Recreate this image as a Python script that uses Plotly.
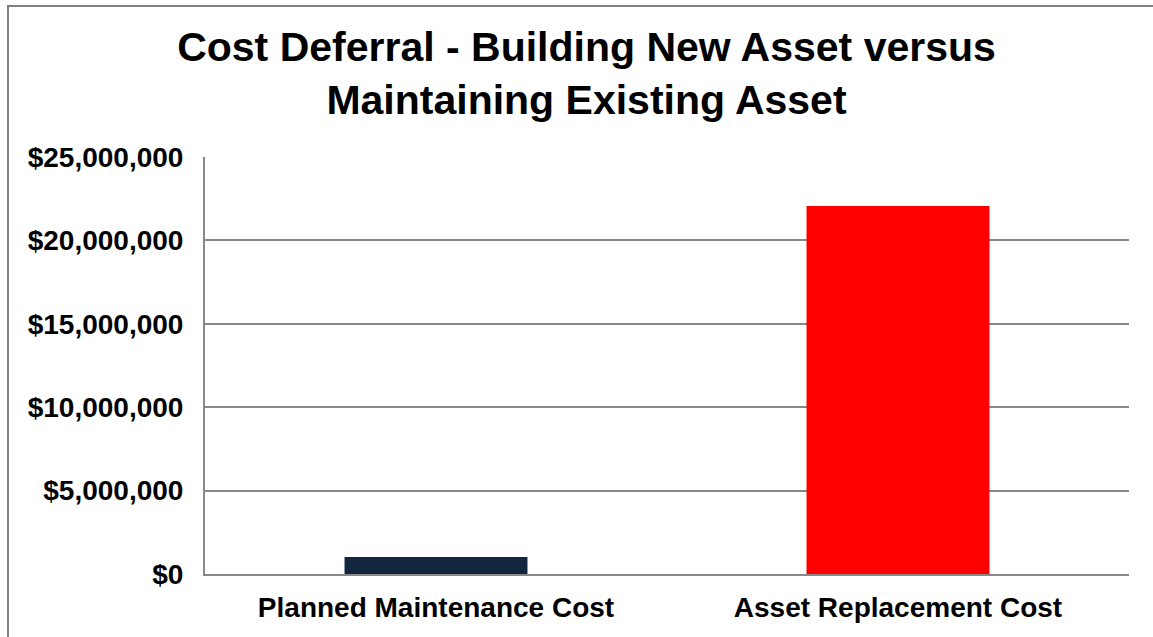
import plotly.graph_objects as go

categories = ["Planned Maintenance Cost", "Asset Replacement Cost"]
values = [1020000, 22060000]
colors = ["#13263f", "#ff0000"]
title_text = "Cost Deferral - Building New Asset versus<br>Maintaining Existing Asset"

W, H = 1153, 637
L, R, T, B = 205, 24, 157, 63
pw, ph = W - L - R, H - T - B

fig = go.Figure(go.Bar(x=categories, y=values, marker=dict(color=colors, line=dict(width=0)),
                       width=0.396))

font = "Liberation Sans, Arial, sans-serif"
fig.update_layout(
    width=W, height=H,
    margin=dict(l=L, r=R, t=T, b=B, pad=0),
    paper_bgcolor="white", plot_bgcolor="white",
    showlegend=False,
    title=dict(text=title_text, x=586.5 / W, xanchor="center", xref="container",
               y=1 - 61 / H, yanchor="top", yref="container",
               font=dict(family=font, size=41, color="black", weight="bold")),
    font=dict(family=font, color="black"),
)
fig.update_xaxes(showline=True, linecolor="#888888", linewidth=2, showgrid=False,
                 ticks="", tickfont=dict(size=28, weight="bold", color="black"),
                 ticklabelstandoff=7)
fig.update_yaxes(range=[0, 25000000], dtick=5000000, tick0=0, tickprefix="$", tickformat=",.0f",
                 showgrid=True, gridcolor="#888888", gridwidth=2,
                 showline=True, linecolor="#888888", linewidth=2, zeroline=False,
                 ticks="", tickfont=dict(size=28, weight="bold", color="black"),
                 ticklabelstandoff=14)
fig.add_shape(type="rect", xref="paper", yref="paper",
              x0=(8 - L) / pw, x1=1.2, y0=-0.5, y1=(H - B - 6) / ph,
              line=dict(color="#808080", width=2), fillcolor="rgba(0,0,0,0)", layer="below")

fig.write_html("out.html")
